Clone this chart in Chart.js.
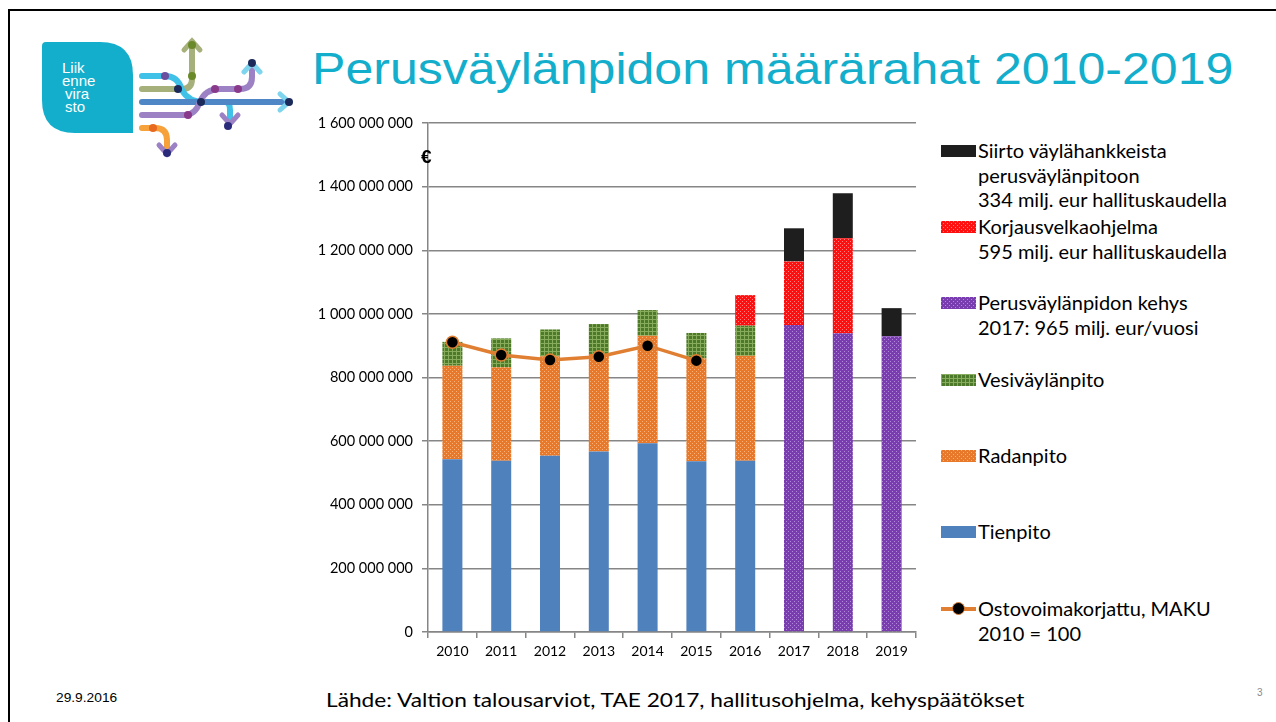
<!DOCTYPE html>
<html>
<head>
<meta charset="utf-8">
<script src="https://cdn.jsdelivr.net/npm/chart.js@4/dist/chart.umd.min.js"></script>
<style>
  html, body { margin:0; padding:0; background:#fff; }
  body { width:1276px; height:722px; position:relative; overflow:hidden; font-family:"Lato","Open Sans",sans-serif; }
  .frame { position:absolute; left:8px; top:9px; width:1300px; height:800px; border-left:2px solid #000; border-top:2px solid #000; }
  .title { position:absolute; left:312px; top:44px; font-family:"Liberation Sans",Arial,sans-serif; font-size:44px; color:#12AECB; white-space:nowrap; transform:scaleX(1.138); transform-origin:0 0; }
  #chartWrap { position:absolute; left:300px; top:103px; width:626px; height:560px; }
  .euro { position:absolute; left:421px; top:146px; font-weight:bold; font-size:19px; font-family:"Liberation Sans",Arial,sans-serif; }
  .legend { position:absolute; left:0; top:0; font-size:20px; color:#000; }
  .sw { position:absolute; width:35px; height:12px; }
  .lg-text { position:absolute; line-height:24.5px; white-space:nowrap; }
  .footer { position:absolute; left:326px; top:687px; font-size:20px; line-height:24px; white-space:nowrap; transform:scaleX(1.135); transform-origin:0 0; }
  .date { position:absolute; left:56px; top:691px; font-family:"Liberation Sans",Arial,sans-serif; font-size:12.5px; transform:scaleX(1.1); transform-origin:0 0; }
  .pnum { position:absolute; left:1257px; top:687px; font-family:"Liberation Sans",Arial,sans-serif; font-size:10px; color:#8a8a8a; }
  .logo { position:absolute; left:0; top:0; }
</style>
</head>
<body>
<div class="frame"></div>

<svg class="logo" width="300" height="170" viewBox="0 0 300 170">
  <path d="M42 46 Q42 42 46 42 L100 42 Q133 42 133 75 L133 133 L75 133 Q42 133 42 100 Z" fill="#12AECB"/>
  <text fill="#fff" font-family="Liberation Sans, Arial, sans-serif" font-size="15">
    <tspan x="62" y="73">Liik</tspan>
    <tspan x="62" y="86">enne</tspan>
    <tspan x="65" y="99">vira</tspan>
    <tspan x="65" y="112">sto</tspan>
  </text>
  <g fill="none" stroke-width="6" stroke-linecap="round">
    <path d="M142 89 L182 89 Q192 89 192 79 L192 42" stroke="#A6B07A"/>
    <path d="M142 76 L165 76 Q178 76 182 90 Q188 102 205 102 L225 102 Q230 102 230 110 L230 122" stroke="#3FC1E8"/>
    <path d="M142 102 L288 102" stroke="#4F86C6"/>
    <path d="M142 115 L185 115 Q195 115 200 102 Q205 89 220 89 L240 89 Q252 89 252 77 L252 70" stroke="#9C82C4"/>
    <path d="M142 128 L155 128 Q167 128 167 140 L167 150" stroke="#F7A13A"/>
  </g>
  <g fill="none" stroke-width="5" stroke-linecap="round">
    <path d="M184 50 L192 41 L200 50" stroke="#A6B07A"/>
    <path d="M280 94 L289 102 L280 110" stroke="#7FD4EE"/>
    <path d="M222 115 L230 124 L238 115" stroke="#9C82C4"/>
    <path d="M244 72 L252 63 L260 72" stroke="#7FD4EE"/>
    <path d="M159 145 L167 154 L175 145" stroke="#9C82C4"/>
  </g>
  <g>
    <circle cx="192" cy="45" r="4" fill="#6A8A2A"/>
    <circle cx="192" cy="76" r="4" fill="#6A8A2A"/>
    <circle cx="165" cy="76" r="4" fill="#6C4E9E"/>
    <circle cx="178" cy="89" r="4" fill="#1B2A5A"/>
    <circle cx="201" cy="102" r="4" fill="#1B2A5A"/>
    <circle cx="188" cy="115" r="4" fill="#8A3A8A"/>
    <circle cx="215" cy="89" r="4" fill="#8A3A8A"/>
    <circle cx="238" cy="89" r="4" fill="#8A3A8A"/>
    <circle cx="252" cy="63" r="4" fill="#1B2A5A"/>
    <circle cx="289" cy="102" r="4" fill="#1B2A5A"/>
    <circle cx="228" cy="126" r="4" fill="#2A2A7A"/>
    <circle cx="153" cy="128" r="4" fill="#E86A20"/>
    <circle cx="167" cy="153" r="4" fill="#2A2A7A"/>
  </g>
</svg>

<div class="title">Perusväylänpidon määrärahat 2010-2019</div>

<div id="chartWrap"><canvas id="c" width="626" height="560"></canvas></div>
<div class="euro">€</div>

<div class="legend" id="legend"></div>

<div class="footer">Lähde: Valtion talousarviot, TAE 2017, hallitusohjelma, kehyspäätökset</div>
<div class="date">29.9.2016</div>
<div class="pnum">3</div>

<script>
// ---- Data ----
const years = ['2010','2011','2012','2013','2014','2015','2016','2017','2018','2019'];
const tienpito      = [543e6, 538e6, 554e6, 567e6, 593e6, 537e6, 538e6, null, null, null];
const radanpito     = [294e6, 294e6, 313e6, 307e6, 338e6, 323e6, 330e6, null, null, null];
const vesivaylanpito= [75e6, 91e6, 84e6, 94e6, 81e6, 80e6, 95e6, null, null, null];
const kehys         = [null, null, null, null, null, null, null, 965e6, 939e6, 930e6];
const korjausvelka  = [null, null, null, null, null, null, 96e6, 200e6, 299e6, null];
const siirto        = [null, null, null, null, null, null, null, 104e6, 141e6, 88e6];
const ostovoima     = [911e6, 871e6, 855e6, 865e6, 900e6, 853e6, null, null, null, null];
const yTickMax = 1600000000;
const yTickStep = 200000000;

const labelSiirto = ['Siirto väylähankkeista', 'perusväylänpitoon', '334 milj. eur hallituskaudella'];
const labelKorjaus = ['Korjausvelkaohjelma', '595 milj. eur hallituskaudella'];
const labelKehys = ['Perusväylänpidon kehys', '2017: 965 milj. eur/vuosi'];
const labelVesi = ['Vesiväylänpito'];
const labelRadan = ['Radanpito'];
const labelTien = ['Tienpito'];
const labelOsto = ['Ostovoimakorjattu, MAKU', '2010 = 100'];

// ---- Patterns ----
function patCanvas(base, dot, kind) {
  const c = document.createElement('canvas');
  c.width = 4; c.height = 4;
  const g = c.getContext('2d');
  g.fillStyle = base; g.fillRect(0, 0, 4, 4);
  g.fillStyle = dot;
  if (kind === 'grid') {
    g.fillRect(0, 0, 4, 1); g.fillRect(0, 0, 1, 4);
  } else {
    g.fillRect(0, 0, 1, 1); g.fillRect(2, 2, 1, 1);
  }
  return c;
}
const canvas = document.getElementById('c');
const ctx = canvas.getContext('2d');
const pOrange = patCanvas('#E8792A', '#F6B27A', 'dot');
const pGreen  = patCanvas('#4C7A2A', '#86AC5C', 'grid');
const pRed    = patCanvas('#FF1010', '#FF8080', 'dot');
const pPurple = patCanvas('#7A3DB0', '#B08AD8', 'dot');
const fills = {
  tien: '#4F81BD',
  radan: ctx.createPattern(pOrange, 'repeat'),
  vesi: ctx.createPattern(pGreen, 'repeat'),
  kehys: ctx.createPattern(pPurple, 'repeat'),
  korjaus: ctx.createPattern(pRed, 'repeat'),
  siirto: '#1E1E1E'
};

function fmt(v) {
  return String(Math.round(v)).replace(/\B(?=(\d{3})+(?!\d))/g, ' ');
}

const barCommon = { type: 'bar', stack: 'bars', order: 1, barPercentage: 0.41, categoryPercentage: 1.0, borderWidth: 0 };

new Chart(ctx, {
  data: {
    labels: years,
    datasets: [
      Object.assign({ label: labelTien.join(' '), data: tienpito, backgroundColor: fills.tien }, barCommon),
      Object.assign({ label: labelRadan.join(' '), data: radanpito, backgroundColor: fills.radan }, barCommon),
      Object.assign({ label: labelVesi.join(' '), data: vesivaylanpito, backgroundColor: fills.vesi }, barCommon),
      Object.assign({ label: labelKehys.join(' '), data: kehys, backgroundColor: fills.kehys }, barCommon),
      Object.assign({ label: labelKorjaus.join(' '), data: korjausvelka, backgroundColor: fills.korjaus }, barCommon),
      Object.assign({ label: labelSiirto.join(' '), data: siirto, backgroundColor: fills.siirto }, barCommon),
      {
        type: 'line', stack: 'line', order: 0,
        label: labelOsto.join(' '), data: ostovoima,
        borderColor: '#E07F32', borderWidth: 3.5,
        pointBackgroundColor: '#000', pointBorderColor: '#E07F32', pointBorderWidth: 1.5,
        pointRadius: 6, tension: 0, spanGaps: false
      }
    ]
  },
  options: {
    responsive: false,
    animation: false,
    layout: { padding: { top: 20, right: 10, left: 0, bottom: 0 } },
    plugins: { legend: { display: false }, tooltip: { enabled: false } },
    scales: {
      x: {
        stacked: true,
        grid: { display: true, drawOnChartArea: false, offset: true, tickLength: 6, color: '#868686', lineWidth: 1.5 },
        border: { display: true, color: '#868686', width: 1.5 },
        ticks: { color: '#000', font: { family: 'Lato', size: 14 }, padding: 5, maxRotation: 0 },
        afterFit: s => { s.height = 31; }
      },
      y: {
        stacked: true,
        min: 0, max: yTickMax,
        grid: { color: '#868686', lineWidth: 1.5, tickLength: 6 },
        border: { display: true, color: '#868686', width: 1.5 },
        ticks: { stepSize: yTickStep, color: '#000', font: { family: 'Lato', size: 14.5 }, padding: 9, callback: v => fmt(v) },
        afterFit: s => { s.width = 128; }
      }
    }
  }
});

// ---- HTML legend ----
const legendItems = [
  { lines: labelSiirto, fill: '#1E1E1E', top: 151 },
  { lines: labelKorjaus, pat: pRed, top: 227 },
  { lines: labelKehys, pat: pPurple, top: 303 },
  { lines: labelVesi, pat: pGreen, top: 380 },
  { lines: labelRadan, pat: pOrange, top: 456 },
  { lines: labelTien, fill: '#4F81BD', top: 532 },
  { lines: labelOsto, line: true, top: 609 }
];
const lg = document.getElementById('legend');
legendItems.forEach(it => {
  const sw = document.createElement('div');
  sw.className = 'sw';
  sw.style.left = '941px';
  if (it.line) {
    sw.style.top = (it.top - 8) + 'px';
    sw.style.height = '16px';
    sw.innerHTML = '<div style="position:absolute;left:0;top:6px;width:35px;height:3.5px;background:#E07F32"></div>' +
      '<div style="position:absolute;left:11px;top:1px;width:11px;height:11px;border-radius:50%;background:#000;border:1.5px solid #E07F32"></div>';
  } else {
    sw.style.top = (it.top - 6) + 'px';
    if (it.pat) sw.style.backgroundImage = 'url(' + it.pat.toDataURL() + ')';
    else sw.style.background = it.fill;
  }
  lg.appendChild(sw);
  const tx = document.createElement('div');
  tx.className = 'lg-text';
  tx.style.left = '978px';
  tx.style.top = (it.top - 13) + 'px';
  tx.innerHTML = it.lines.join('<br>');
  lg.appendChild(tx);
});
</script>
</body>
</html>
